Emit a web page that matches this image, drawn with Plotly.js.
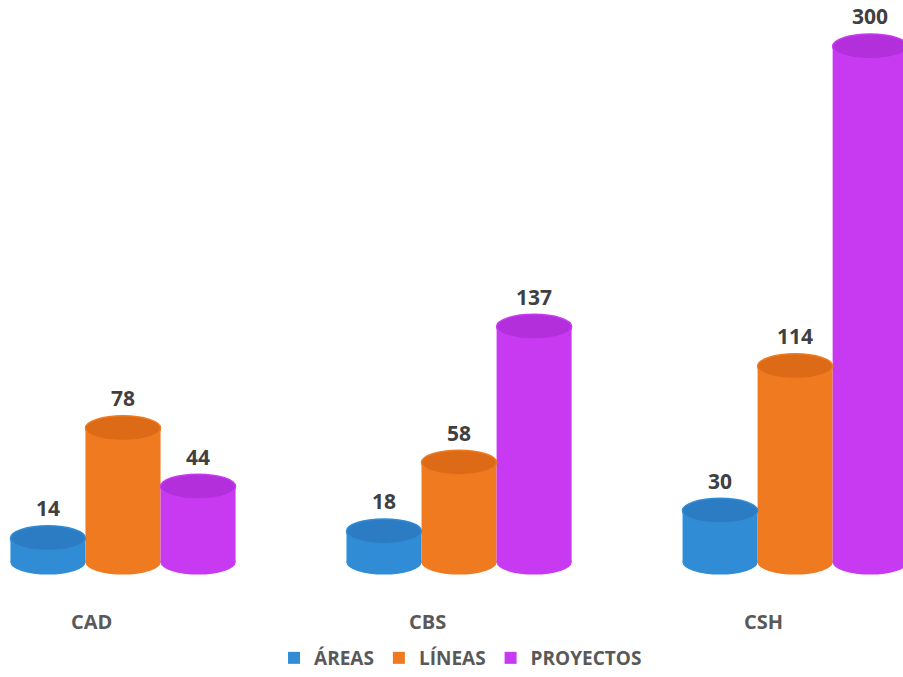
<!DOCTYPE html>
<html>
<head>
<meta charset="utf-8">
<script src="https://cdn.plot.ly/plotly-3.0.1.min.js"></script>
<style>html,body{margin:0;padding:0;background:#fff;}#chart{width:903px;height:677px;}</style>
</head>
<body>
<div id="chart"></div>
<script>
const categories = ["CAD", "CBS", "CSH"];
const seriesNames = ["ÁREAS", "LÍNEAS", "PROYECTOS"];
const areas = [14, 18, 30];
const lineas = [78, 58, 114];
const proyectos = [44, 137, 300];

const seriesValues = [areas, lineas, proyectos];
const sideColors = ["#318CD6", "#EF7A1F", "#C83AF2"];
const capColors = ["#2B7CC2", "#DC6A16", "#B22FDB"];
const bargap = 0.33;
const barW = (1 - bargap) / 3;
const capHalf = 7.2; // in value units, ellipse half height
const xpos = categories.map((c, i) => i);

const traces = seriesNames.map((name, s) => ({
  type: "bar",
  name: name,
  x: xpos,
  y: seriesValues[s],
  marker: { color: sideColors[s], line: { width: 0 } },
  hoverinfo: "y"
}));

const shapes = [];
const annotations = [];
seriesValues.forEach((vals, s) => {
  const off = (s - 1) * barW;
  vals.forEach((v, i) => {
    const xc = xpos[i] + off;
    shapes.push({ type: "circle", xref: "x", yref: "y", layer: "below",
      x0: xc - barW / 2, x1: xc + barW / 2, y0: -capHalf, y1: capHalf,
      fillcolor: sideColors[s], line: { width: 0 } });
    shapes.push({ type: "circle", xref: "x", yref: "y", layer: "above",
      x0: xc - barW / 2, x1: xc + barW / 2, y0: v - capHalf, y1: v + capHalf,
      fillcolor: capColors[s], line: { width: 1.5, color: sideColors[s] } });
    annotations.push({ x: xc, y: v, xref: "x", yref: "y", yshift: 30,
      text: String(v), showarrow: false,
      font: { family: "Open Sans, sans-serif", size: 21, color: "#404040", weight: "bold" } });
  });
});
categories.forEach((c, i) => {
  annotations.push({ x: xpos[i], y: 0, xref: "x", yref: "paper", xshift: -32, yshift: -45,
    yanchor: "middle", text: c, showarrow: false,
    font: { family: "Open Sans, sans-serif", size: 20, color: "#595959", weight: "bold" } });
});

const layout = {
  width: 903, height: 677,
  margin: { l: 0, r: 0, t: 0, b: 95 },
  paper_bgcolor: "#ffffff", plot_bgcolor: "#ffffff",
  barmode: "group", bargap: bargap, bargroupgap: 0,
  showlegend: true,
  legend: { orientation: "h", x: 0.51, xanchor: "center", y: -0.1426, yanchor: "middle",
    font: { family: "Open Sans, sans-serif", size: 19, color: "#595959", weight: "bold" } },
  xaxis: { range: [-0.366, 2.321], showgrid: false, zeroline: false, showticklabels: false, showline: false },
  yaxis: { range: [-8, 327.0], showgrid: false, zeroline: false, showticklabels: false, showline: false },
  shapes: shapes,
  annotations: annotations
};

Plotly.newPlot("chart", traces, layout, { displayModeBar: false, staticPlot: true });
</script>
</body>
</html>
